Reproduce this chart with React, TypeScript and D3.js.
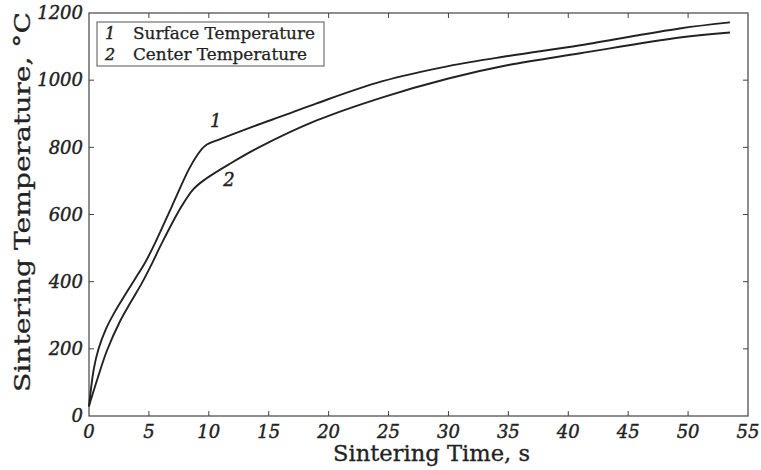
import { useRef, useEffect } from 'react';
import * as d3 from 'd3';

const surfaceTime = [0, 0.4, 0.8, 1.4, 2.2, 3.0, 3.84, 4.7, 5.5, 6.9, 8.3, 9.0, 9.7, 11.0, 13.4, 16.5, 19, 24.5, 30, 35, 41, 49.3, 53.5];
const surfaceTemp = [28, 140, 200, 258, 313, 360, 408, 458, 514, 623, 732, 775, 805, 825, 858, 898, 931, 997, 1042, 1072, 1104, 1154, 1172];

const centerTime = [0, 0.7, 1.5, 2.6, 3.5, 4.4, 5.2, 6.07, 7.7, 8.7, 9.7, 11.8, 14.3, 19, 24.5, 30, 35, 41, 49.3, 53.5];
const centerTemp = [30, 110, 195, 283, 340, 395, 450, 514, 623, 675, 705, 752, 802, 880, 949, 1005, 1045, 1080, 1127, 1142];

const xTicks = [0, 5, 10, 15, 20, 25, 30, 35, 40, 45, 50, 55];
const yTicks = [0, 200, 400, 600, 800, 1000, 1200];
const legendLabels = ['Surface Temperature', 'Center Temperature'];

const W = 761;
const H = 470;
const M = { top: 13, right: 13, bottom: 54, left: 89 };
const FONT = '"DejaVu Serif", serif';
const INK = '#222';

export default function App() {
  const svgRef = useRef<SVGSVGElement>(null);

  useEffect(() => {
    const svg = d3.select(svgRef.current);
    svg.selectAll('*').remove();

    const x = d3.scaleLinear().domain([0, 55]).range([M.left, W - M.right]);
    const y = d3.scaleLinear().domain([0, 1200]).range([H - M.bottom, M.top]);

    // frame
    svg.append('rect')
      .attr('x', M.left).attr('y', M.top)
      .attr('width', W - M.left - M.right).attr('height', H - M.top - M.bottom)
      .attr('fill', 'none').attr('stroke', '#444').attr('stroke-width', 1.2);

    // ticks, inward on all sides
    const tl = 5;
    const g = svg.append('g').attr('stroke', '#444').attr('stroke-width', 1);
    xTicks.slice(1, -1).forEach((t) => {
      g.append('line').attr('x1', x(t)).attr('x2', x(t)).attr('y1', y(0)).attr('y2', y(0) - tl);
      g.append('line').attr('x1', x(t)).attr('x2', x(t)).attr('y1', y(1200)).attr('y2', y(1200) + tl);
    });
    yTicks.slice(1, -1).forEach((t) => {
      g.append('line').attr('x1', x(0)).attr('x2', x(0) + tl).attr('y1', y(t)).attr('y2', y(t));
      g.append('line').attr('x1', x(55)).attr('x2', x(55) - tl).attr('y1', y(t)).attr('y2', y(t));
    });

    // a thin stroke thickens the glyphs like the scanned original
    const ink = (sel: any, w = 0.4) => sel.attr('fill', INK).attr('stroke', INK).attr('stroke-width', w);

    // tick labels
    svg.append('g')
      .selectAll('text')
      .data(xTicks)
      .join('text')
      .attr('x', (d) => x(d))
      .attr('y', y(0) + 22)
      .attr('text-anchor', 'middle')
      .attr('font-family', FONT).attr('font-style', 'italic').attr('font-size', 18)
      .call(ink)
      .text((d) => d);

    svg.append('g')
      .selectAll('text')
      .data(yTicks)
      .join('text')
      .attr('x', x(0) - 6)
      .attr('y', (d) => y(d))
      .attr('dy', '0.35em')
      .attr('text-anchor', 'end')
      .attr('font-family', FONT).attr('font-style', 'italic').attr('font-size', 18)
      .call(ink)
      .text((d) => d);

    // axis titles
    svg.append('text')
      .attr('x', 333)
      .attr('y', 461)
      .attr('textLength', 197).attr('lengthAdjust', 'spacingAndGlyphs')
      .attr('font-family', FONT).attr('font-size', 22)
      .call(ink, 0.3)
      .text('Sintering Time, s');

    svg.append('text')
      .attr('transform', 'translate(30,392) rotate(-90)')
      .attr('textLength', 380).attr('lengthAdjust', 'spacingAndGlyphs')
      .attr('font-family', FONT).attr('font-size', 22)
      .call(ink, 0.3)
      .text('Sintering Temperature, °C');

    // curves
    const line = d3.line<[number, number]>()
      .x((d) => x(d[0]))
      .y((d) => y(d[1]))
      .curve(d3.curveCatmullRom.alpha(0.5));

    const series: [number, number][][] = [
      surfaceTime.map((t, i) => [t, surfaceTemp[i]]),
      centerTime.map((t, i) => [t, centerTemp[i]]),
    ];

    svg.append('g')
      .selectAll('path')
      .data(series)
      .join('path')
      .attr('d', (d) => line(d))
      .attr('fill', 'none')
      .attr('stroke', INK)
      .attr('stroke-width', 1.9);

    // curve numbers
    svg.append('text')
      .attr('x', x(10.1)).attr('y', y(862))
      .attr('font-family', FONT).attr('font-style', 'italic').attr('font-size', 18)
      .call(ink).text('1');
    svg.append('text')
      .attr('x', x(11.2)).attr('y', y(684))
      .attr('font-family', FONT).attr('font-style', 'italic').attr('font-size', 18)
      .call(ink).text('2');

    // legend
    const lg = svg.append('g');
    lg.append('rect')
      .attr('x', 97).attr('y', 22).attr('width', 227).attr('height', 44)
      .attr('fill', '#fff').attr('stroke', '#555').attr('stroke-width', 1);
    legendLabels.forEach((label, i) => {
      lg.append('text')
        .attr('x', 105).attr('y', 38.5 + i * 21.5)
        .attr('font-family', FONT).attr('font-style', 'italic').attr('font-size', 16)
        .call(ink).text(i + 1);
      lg.append('text')
        .attr('x', 133).attr('y', 38.5 + i * 21.5)
        .attr('textLength', i === 0 ? 182 : 174).attr('lengthAdjust', 'spacingAndGlyphs')
        .attr('font-family', FONT).attr('font-size', 16)
        .call(ink, 0.25).text(label);
    });
  }, []);

  return (
    <svg
      ref={svgRef}
      width={W}
      height={H}
      style={{ position: 'absolute', left: 0, top: 0, background: '#fff' }}
    />
  );
}
